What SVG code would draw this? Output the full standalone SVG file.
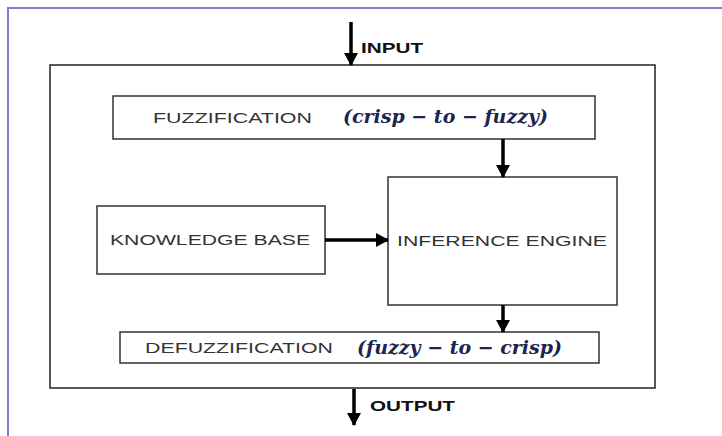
<svg xmlns="http://www.w3.org/2000/svg" width="722" height="436" viewBox="0 0 722 436">
<defs>
<marker id="ah" markerWidth="14" markerHeight="14" refX="12" refY="7" orient="auto" markerUnits="userSpaceOnUse">
<path d="M0,0 L13,7 L0,14 Z" fill="#000"/>
</marker>
<style>
.box{fill:#fff;stroke:#333;stroke-width:1.5}
.lbl{font-family:"Liberation Sans",Arial,sans-serif;font-size:15px;fill:#333}
.io{font-family:"Liberation Sans",Arial,sans-serif;font-size:15px;font-weight:bold;fill:#111}
.math{font-family:"DejaVu Serif","Liberation Serif",serif;font-size:19px;font-style:italic;font-weight:bold;fill:#1b2550}
.con{stroke:#000;stroke-width:3.5;fill:none}
</style>
</defs>
<rect width="722" height="436" fill="#fff"/>
<path d="M8,436 L8,8 L722,8" fill="none" stroke="#7b7fd0" stroke-width="2"/>
<g id="frame"><rect x="50" y="65" width="605" height="323" fill="none" stroke="#222" stroke-width="1.5"/></g>
<g id="fuzzification">
<rect class="box" x="113" y="96" width="482" height="43"/>
<text class="lbl" x="153" y="123" textLength="159" lengthAdjust="spacingAndGlyphs">FUZZIFICATION</text>
<text class="math" x="343" y="123" textLength="205" lengthAdjust="spacingAndGlyphs">(crisp − to − fuzzy)</text>
</g>
<g id="knowledge">
<rect class="box" x="97" y="206" width="228" height="68"/>
<text class="lbl" x="110" y="245" textLength="200" lengthAdjust="spacingAndGlyphs">KNOWLEDGE BASE</text>
</g>
<g id="inference">
<rect class="box" x="388" y="177" width="229" height="128"/>
<text class="lbl" x="397" y="246" textLength="210" lengthAdjust="spacingAndGlyphs">INFERENCE ENGINE</text>
</g>
<g id="defuzzification">
<rect class="box" x="120" y="332" width="479" height="31"/>
<text class="lbl" x="145" y="353" textLength="188" lengthAdjust="spacingAndGlyphs">DEFUZZIFICATION</text>
<text class="math" x="357" y="354" textLength="205" lengthAdjust="spacingAndGlyphs">(fuzzy − to − crisp)</text>
</g>
<g id="input"><text class="io" x="361" y="53" textLength="62" lengthAdjust="spacingAndGlyphs">INPUT</text></g>
<g id="output"><text class="io" x="370" y="411" textLength="85" lengthAdjust="spacingAndGlyphs">OUTPUT</text></g>
<g id="connectors">
<line class="con" x1="351" y1="22" x2="351" y2="65" marker-end="url(#ah)"/>
<line class="con" x1="503" y1="139" x2="503" y2="177" marker-end="url(#ah)"/>
<line class="con" x1="325" y1="240" x2="388" y2="240" marker-end="url(#ah)"/>
<line class="con" x1="503" y1="305" x2="503" y2="332" marker-end="url(#ah)"/>
<line class="con" x1="354" y1="389" x2="354" y2="425" marker-end="url(#ah)"/>
</g>
</svg>
